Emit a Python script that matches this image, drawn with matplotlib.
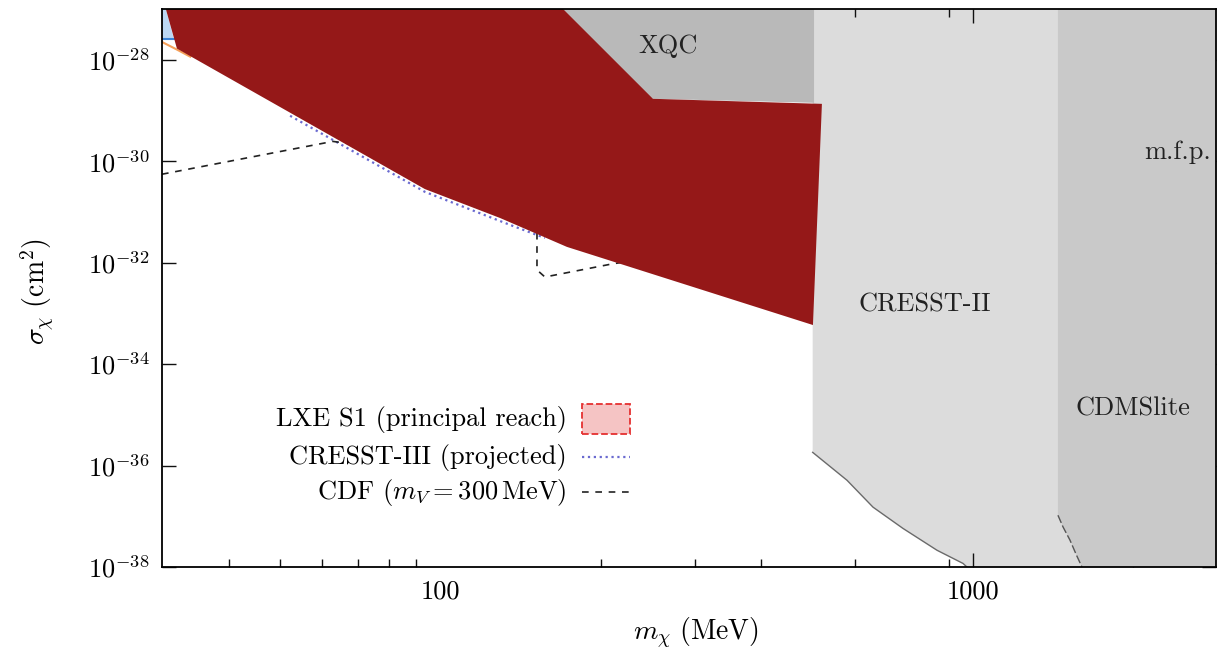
import numpy as np
import matplotlib
matplotlib.use("Agg")
import matplotlib.pyplot as plt
from matplotlib.patches import Rectangle
from matplotlib.lines import Line2D
from matplotlib.ticker import NullLocator, NullFormatter

plt.rcParams['font.family'] = 'serif'
plt.rcParams['font.serif'] = ['cmr10']
plt.rcParams['mathtext.fontset'] = 'cm'
plt.rcParams['axes.formatter.use_mathtext'] = True
plt.rcParams['axes.unicode_minus'] = False

# ---- data (x in MeV, y as log10 of cm^2) ----
# LXE S1 principal reach (filled polygon)
lxe_x = [30.5, 32.0, 93.5, 129.4, 172.8, 500.6, 520.4, 250.6, 169.9]
lxe_logy = [-27.0, -27.78, -30.55, -31.12, -31.69, -33.23, -28.87, -28.77, -27.0]

# XQC excluded region
xqc_x = [169.9, 250.6, 503.0, 503.0, 169.9]
xqc_logy = [-28.77, -28.77, -28.85, -27.0, -27.0]

# CRESST-II lower edge
cresst2_x = [500.0, 500.0, 580.0, 649.0, 739.0, 856.0, 958.0, 974.0]
cresst2_logy = [-27.0, -35.74, -36.29, -36.82, -37.24, -37.67, -37.93, -38.0]

# CDMSlite / m.f.p. lower edge
cdms_x = [1444.0, 1444.0, 1476.0, 1521.0, 1565.0, 1602.0]
cdms_logy = [-27.0, -36.98, -37.21, -37.47, -37.77, -38.0]

# CRESST-III projection
cresst3_x = [52.2, 93.5, 135.1, 157.1]
cresst3_logy = [-29.105, -30.605, -31.256, -31.513]

# CDF (m_V = 300 MeV)
cdf_x = [30.0, 62.8, 100.0, 151.8, 151.8, 157.1, 209.9, 307.1]
cdf_logy = [-30.257, -29.61, -29.9, -30.6, -32.144, -32.283, -32.026, -31.75]

# small features in the top-left corner
blue_x = [30.0, 30.0, 31.6, 30.5]
blue_logy = [-27.0, -27.6, -27.6, -27.0]
orange_x = [30.0, 32.0, 33.9]
orange_logy = [-27.65, -27.8, -27.94]

xmin, xmax = 30.0, 2860.0
ymin_exp, ymax_exp = -38, -27

legend_labels = ['LXE S1 (principal reach)', 'CRESST-III (projected)',
                 r'CDF ($m_V = 300\,$MeV)']
region_labels = [('XQC', 267.4, -27.74), ('CRESST-II', 812.7, -32.835),
                 ('m.f.p.', 2420.0, -29.82), ('CDMSlite', 1998.0, -34.87)]


def pw(v):
    return np.power(10.0, np.array(v))


fig = plt.figure(figsize=(12.17, 6.49), dpi=100)
ax = fig.add_axes([162 / 1217, 1 - 567 / 649, 1054 / 1217, 558 / 649])

# CRESST-II (light grey), drawn out to the right edge
cx = cresst2_x + [xmax, xmax]
cy = cresst2_logy + [ymin_exp, ymax_exp]
ax.fill(cx, pw(cy), color='#dcdcdc', lw=0, zorder=1)
ax.plot(cresst2_x[1:], pw(cresst2_logy[1:]), color='#6a6a6a', lw=1.0, zorder=2)

# CDMSlite / m.f.p.
dx = cdms_x + [xmax, xmax]
dy = cdms_logy + [ymin_exp, ymax_exp]
ax.fill(dx, pw(dy), color='#c9c9c9', lw=0, zorder=2)
ax.plot(cdms_x[1:], pw(cdms_logy[1:]), color='#555555', lw=1.0,
        ls=(0, (6, 2)), zorder=3)

# XQC
ax.fill(xqc_x, pw(xqc_logy), color='#b9b9b9', lw=0, zorder=2)

# lines under the red region
ax.plot(cresst3_x, pw(cresst3_logy), color='#6a6ad0', lw=1.6, ls=':', zorder=3)
ax.plot(cdf_x, pw(cdf_logy), color='#222222', lw=1.2, ls=(0, (4, 4)), zorder=3)
ax.fill(blue_x, pw(blue_logy), color='#bcd8f4', lw=0, zorder=3)
ax.plot(blue_x[1:3], pw(blue_logy[1:3]), color='#3d85d8', lw=1.5, zorder=3)
ax.plot(orange_x, pw(orange_logy), color='#f5a05a', lw=1.5, zorder=3)

# LXE S1 region
ax.fill(lxe_x, pw(lxe_logy), color='#951818', lw=0, zorder=4)

for txt, x, ly in region_labels:
    ax.text(x, 10.0 ** ly, txt, ha='center', va='center', fontsize=19,
            color='#222222', zorder=6)

ax.set_xscale('log')
ax.set_yscale('log')
ax.set_xlim(xmin, xmax)
ax.set_ylim(10.0 ** ymin_exp, 10.0 ** ymax_exp)

ax.set_xticks([100, 1000], ['100', '1000'])
ax.set_xticks([40, 50, 60, 70, 80, 90, 200, 300, 400, 600, 900, 2000], minor=True)
ax.xaxis.set_minor_formatter(NullFormatter())
yt = list(range(-38, -27, 2))
ax.set_yticks([10.0 ** e for e in yt], [r'$10^{%d}$' % e for e in yt])
ax.yaxis.set_minor_locator(NullLocator())
ax.tick_params(which='both', direction='in', top=True, right=True,
               labelsize=19, width=1.0, color='#111111')
ax.tick_params(which='major', length=10, pad=9)
ax.tick_params(which='minor', length=6)
# the reference has a label at 100 but no tick mark there
t100 = ax.xaxis.get_major_ticks()[0]
t100.tick1line.set_visible(False)
t100.tick2line.set_visible(False)
for s in ax.spines.values():
    s.set_linewidth(1.3)
    s.set_zorder(7)

ax.set_xlabel(r'$m_\chi\ (\mathrm{MeV})$', fontsize=20)
ax.set_ylabel(r'$\sigma_\chi\ (\mathrm{cm}^2)$', fontsize=20)
ax.xaxis.set_label_coords(0.5066, -0.088)
ax.yaxis.set_label_coords(-0.101, 0.493)

# legend drawn by hand: right-aligned text, key on the right
rows = [0.2652, 0.1971, 0.1344]
tx, k0, k1 = 0.3843, 0.3985, 0.444
for lab, ry in zip(legend_labels, rows):
    ax.text(tx, ry, lab, transform=ax.transAxes, ha='right', va='center',
            fontsize=19, zorder=8)
ax.add_patch(Rectangle((k0, rows[0] - 0.027), k1 - k0, 0.054,
                       transform=ax.transAxes, facecolor='#f5c4c4',
                       edgecolor='#e53030', ls='--', lw=1.3, zorder=8))
ax.add_line(Line2D([k0, k1], [rows[1]] * 2, transform=ax.transAxes,
                   color='#6a6ad0', lw=1.6, ls=':', zorder=8))
ax.add_line(Line2D([k0, k1], [rows[2]] * 2, transform=ax.transAxes,
                   color='#222222', lw=1.2, ls=(0, (4, 4)), zorder=8))

fig.savefig('out.png', dpi=100)
